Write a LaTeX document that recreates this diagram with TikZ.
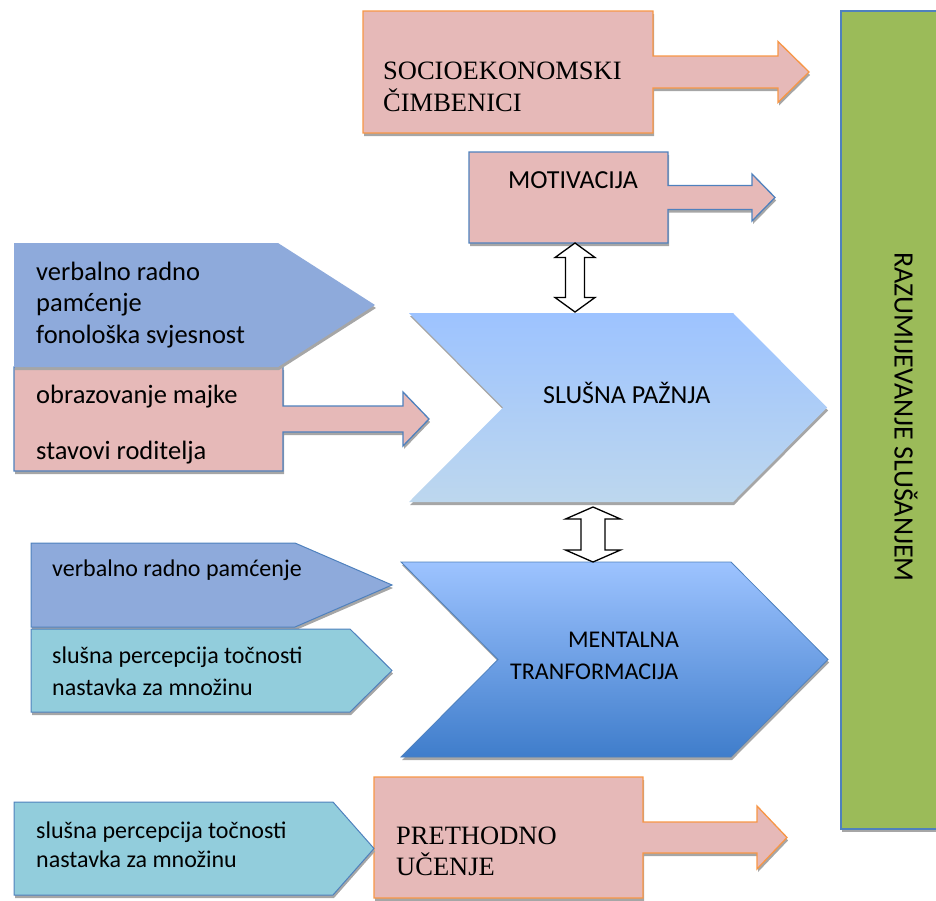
\documentclass[tikz,border=0pt]{standalone}
\usepackage{fontspec}
\setmainfont{Liberation Serif}
\newfontfamily\calibri{Carlito}
\usepackage{tikz}
\usetikzlibrary{shadows}
\usetikzlibrary{calc,math}

\definecolor{rosefill}{HTML}{E6B9B8}
\definecolor{orangeline}{HTML}{F79646}
\definecolor{blueline}{HTML}{4F81BD}
\definecolor{slatefill}{HTML}{8EAADB}
\definecolor{tealfill}{HTML}{92CDDC}
\definecolor{greenfill}{HTML}{9BBB59}
\definecolor{skytop}{HTML}{9DC3FF}
\definecolor{skybottom}{HTML}{BDD7EE}
\definecolor{deepbottom}{HTML}{3F7DCB}
\definecolor{shadowgray}{HTML}{A6A6A6}

\tikzset{
  shade3d/.style={drop shadow={shadow xshift=1pt, shadow yshift=-3pt, fill=shadowgray, opacity=1}},
  rosebox/.style={fill=rosefill, draw=#1, line width=1.3pt, shade3d},
  tagbox/.style={fill=#1, draw=blueline, line width=1pt, shade3d},
  twoway/.style={fill=white, draw=black, line width=1.3pt},
  serif/.style={font=\fontsize{26.5}{32}\selectfont, align=left, anchor=base west, inner sep=0pt},
  sans/.style={font=\calibri\fontsize{#1}{31.5}\selectfont, align=left, anchor=base west, inner sep=0pt},
}

\begin{document}
\begin{tikzpicture}[x=1pt, y=-1pt, thin]
  \useasboundingbox (0,0) rectangle (936,900);

  % Shapes
  \newcommand\boxarrow[9]{% style, x0, y0, x1, y1, shaft half, head x, head half, tip x
    \tikzmath{\cY = (#3+#5)/2; \sT = \cY-#6; \sB = \cY+#6; \hT = \cY-#8; \hB = \cY+#8;};
    \draw[#1] (#2,#3) -- (#4,#3) -- (#4,\sT) -- (#7,\sT) -- (#7,\hT) -- (#9,\cY)
      -- (#7,\hB) -- (#7,\sB) -- (#4,\sB) -- (#4,#5) -- (#2,#5) -- cycle;
  }
  \newcommand\tagshape[6]{% style, x0, y0, x1, tip x, y1
    \tikzmath{\cY = (#3+#6)/2;};
    \draw[#1] (#2,#3) -- (#4,#3) -- (#5,\cY) -- (#4,#6) -- (#2,#6) -- cycle;
  }
  \newcommand\chevron[6]{% style, x0, y0, x1, y1, depth
    \tikzmath{\cY = (#3+#5)/2; \tX = #4+#6; \nX = #2+#6;};
    \draw[#1] (#2,#3) -- (#4,#3) -- (\tX,\cY) -- (#4,#5) -- (#2,#5) -- (\nX,\cY) -- cycle;
  }
  \newcommand\twowayarrow[5]{% from, to, head half, shaft half, head length
    \draw[twoway] (#1) -- ($(#1)+(#3,#5)$) -- ($(#1)+(#4,#5)$) -- ($(#2)+(#4,-#5)$)
      -- ($(#2)+(#3,-#5)$) -- (#2) -- ($(#2)+(-#3,-#5)$) -- ($(#2)+(-#4,-#5)$)
      -- ($(#1)+(-#4,#5)$) -- ($(#1)+(-#3,#5)$) -- cycle;
  }

  % Outcome bar
  \draw[fill=greenfill, draw=blueline, line width=1.3pt, shade3d] (841,11) rectangle (950,829);

  % Block arrows
  \boxarrow{rosebox=orangeline}{363}{11}{653}{133}{16}{778}{30.5}{809}
  \boxarrow{rosebox=blueline}{469}{152}{668}{243}{12}{752}{23.5}{775}
  \boxarrow{rosebox=blueline}{14}{367}{283}{471}{13}{403}{27}{429}
  \boxarrow{rosebox=orangeline}{374}{777}{643}{898}{15.5}{757}{31.5}{787}

  % Tags
  \tagshape{fill=slatefill, draw=none, shade3d}{14}{243}{278}{375}{367}
  \tagshape{tagbox=slatefill}{31}{543}{295}{392}{627}
  \tagshape{tagbox=tealfill}{31}{629}{350}{392}{712}
  \tagshape{tagbox=tealfill}{14}{802}{333}{374}{895}

  % Chevrons
  \chevron{top color=skytop, bottom color=skybottom, draw=none, shade3d}{409}{313}{733}{502}{94}
  \chevron{top color=skytop, bottom color=deepbottom, draw=blueline, line width=0.8pt, shade3d}{401}{562}{731}{757}{97}

  % Connectors
  \coordinate (motivB) at (575,243);
  \coordinate (attT)   at (575,312);
  \coordinate (attB)   at (593,507);
  \coordinate (mentT)  at (593,562);
  \twowayarrow{motivB}{attT}{20}{9.5}{14.5}
  \twowayarrow{attB}{mentT}{27.5}{12}{12}

  % Labels (anchored on the last baseline)
  \node[serif] (socio) at (383,111) {SOCIOEKONOMSKI\\ČIMBENICI};
  \node[sans=26] (motiv) at (508,188) {MOTIVACIJA};
  \node[sans=26.5] (memphon) at (36,343) {verbalno radno\\pamćenje\\fonološka svjesnost};
  \node[sans=26.5] (mother) at (36,459) {obrazovanje majke\\[24pt]stavovi roditelja};
  \node[sans=26] (attention) at (543,403) {SLUŠNA PAŽNJA};
  \node[sans=24] (mental) at (510,679) {\hspace*{58pt}MENTALNA\\TRANFORMACIJA};
  \node[sans=24] (memory) at (52,576) {verbalno radno pamćenje};
  \node[sans=24] (plural) at (52,695) {slušna percepcija točnosti\\nastavka za množinu};
  \node[sans=24, font=\calibri\fontsize{24}{29}\selectfont] (pluralb) at (36,867) {slušna percepcija točnosti\\nastavka za množinu};
  \node[serif, font=\fontsize{26.5}{31}\selectfont] (prior) at (396,875) {PRETHODNO\\UČENJE};
  \node[font=\calibri\fontsize{28}{32}\selectfont, rotate=-90] (listening) at (906,417) {RAZUMIJEVANJE SLUŠANJEM};

\end{tikzpicture}
\end{document}
